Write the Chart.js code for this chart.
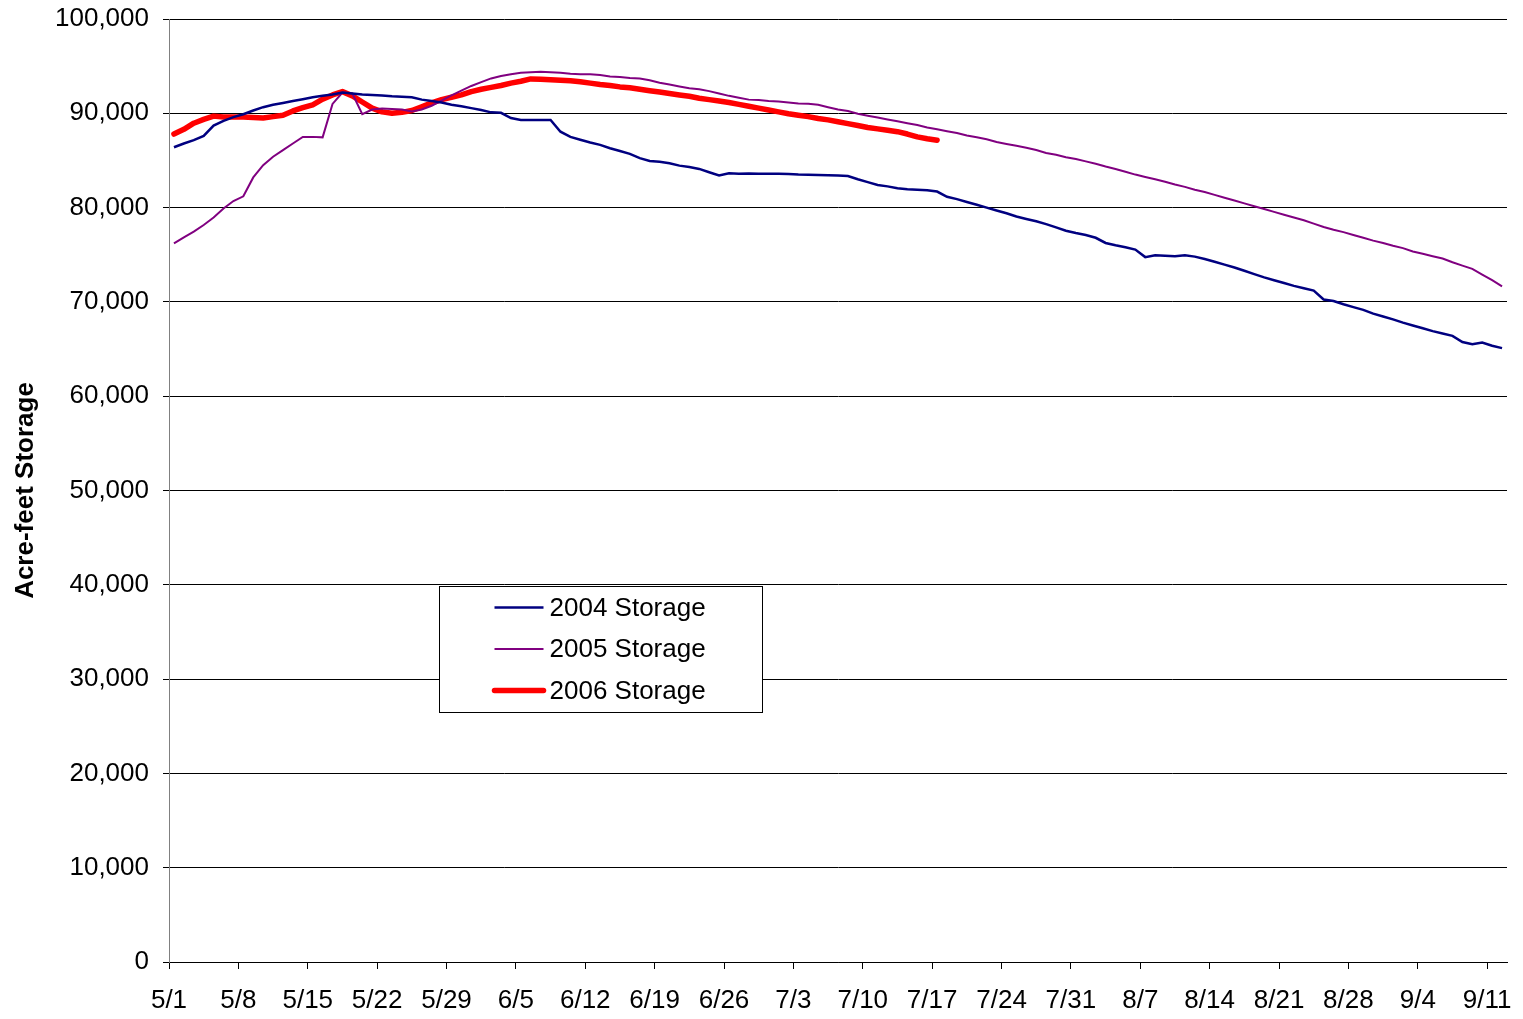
<!DOCTYPE html>
<html>
<head>
<meta charset="utf-8">
<title>Storage</title>
<script src="https://cdn.jsdelivr.net/npm/chart.js@4.4.1/dist/chart.umd.min.js"></script>
<style>
  html, body { margin: 0; padding: 0; background: #fff; }
  #wrap { width: 1523px; height: 1019px; }
</style>
</head>
<body>
<div id="wrap"><canvas id="storageChart" width="1523" height="1019"></canvas></div>
<script>
'use strict';

// ------------------ data ------------------
const seriesNames = ['2004 Storage', '2005 Storage', '2006 Storage'];

// one value per day starting 5/1
const storage2004 = [
  86400, 86800, 87150, 87600, 88700, 89200, 89600, 89900, 90300, 90650,
  90900, 91100, 91300, 91500, 91700, 91850, 92000, 92200, 92100, 92000,
  91950, 91900, 91800, 91750, 91700, 91450, 91300, 91150, 90900, 90750,
  90550, 90350, 90100, 90050, 89500, 89300, 89300, 89300, 89300, 88050,
  87500, 87200, 86900, 86650, 86300, 86000, 85700, 85250, 84950, 84850,
  84700, 84450, 84300, 84100, 83750, 83400, 83650, 83600, 83620, 83600,
  83600, 83580, 83550, 83500, 83480, 83450, 83430, 83400, 83350, 83000,
  82700, 82400, 82250, 82050, 81950, 81900, 81850, 81700, 81150, 80900,
  80600, 80300, 80000, 79700, 79400, 79050, 78800, 78550, 78250, 77900,
  77550, 77300, 77100, 76800, 76250, 76000, 75800, 75550, 74750, 74950,
  74900, 74850, 74950, 74800, 74550, 74250, 73950, 73650, 73300, 72950,
  72600, 72300, 72000, 71700, 71450, 71200, 70250, 70100, 69750, 69450,
  69150, 68750, 68450, 68150, 67800, 67500, 67200, 66900, 66650, 66400,
  65750, 65500, 65700, 65350, 65100
];

const storage2005 = [
  76200, 76850, 77450, 78150, 78950, 79900, 80700, 81200, 83200, 84500,
  85400, 86100, 86800, 87500, 87500, 87450, 91000, 92200, 92100, 89900,
  90400, 90500, 90450, 90400, 90200, 90400, 90800, 91350, 91900, 92400,
  92900, 93300, 93700, 93950, 94150, 94300, 94350, 94400, 94350, 94300,
  94200, 94150, 94150, 94050, 93900, 93850, 93750, 93700, 93500, 93250,
  93050, 92850, 92650, 92550, 92350, 92100, 91850, 91650, 91450, 91400,
  91300, 91250, 91150, 91050, 91000, 90900, 90650, 90400, 90250, 89950,
  89750, 89550, 89350, 89150, 88950, 88750, 88500, 88300, 88100, 87900,
  87650, 87450, 87250, 86950, 86750, 86550, 86350, 86100, 85800, 85600,
  85350, 85150, 84900, 84650, 84350, 84100, 83800, 83500, 83250, 83000,
  82750, 82450, 82200, 81900, 81650, 81350, 81050, 80750, 80450, 80150,
  79850, 79550, 79250, 78950, 78650, 78300, 77950, 77650, 77400, 77100,
  76800, 76500, 76250, 75950, 75700, 75350, 75100, 74850, 74600, 74200,
  73850, 73500, 72900, 72300, 71650
];

const storage2006 = [
  87800, 88300, 88950, 89350, 89700, 89600, 89600, 89600, 89550, 89500,
  89650, 89800, 90250, 90600, 90900, 91500, 91950, 92300, 91850, 91200,
  90550, 90150, 90000, 90100, 90300, 90700, 91100, 91450, 91700, 91950,
  92300, 92550, 92750, 92950, 93200, 93400, 93650, 93600, 93550, 93500,
  93450, 93350, 93200, 93050, 92950, 92800, 92700, 92550, 92400, 92250,
  92100, 91950, 91800, 91600, 91450, 91300, 91150, 90950, 90750, 90550,
  90350, 90150, 89950, 89800, 89650, 89450, 89300, 89100, 88900, 88700,
  88500, 88350, 88200, 88050, 87800, 87500, 87300, 87150
];

// week labels on the date axis
const weekLabels = ['5/1', '5/8', '5/15', '5/22', '5/29', '6/5', '6/12', '6/19', '6/26', '7/3',
  '7/10', '7/17', '7/24', '7/31', '8/7', '8/14', '8/21', '8/28', '9/4', '9/11'];
const dayCount = storage2004.length;

// ------------------ helpers ------------------
const FONT = '"Liberation Sans", Arial, sans-serif';

function toPoints(values) {
  return values.map((v, i) => ({ x: i, y: v }));
}

// draws the boxed legend inside the plot like the old excel chart
const boxLegend = {
  id: 'boxLegend',
  afterDraw(chart) {
    const ctx = chart.ctx;
    const area = chart.chartArea;
    const left = area.left + 270.5;
    const top = area.top + 567.5;
    const w = 323;
    const h = 126;
    ctx.save();
    ctx.fillStyle = '#fff';
    ctx.fillRect(left, top, w, h);
    ctx.strokeStyle = '#000';
    ctx.lineWidth = 1;
    ctx.strokeRect(left, top, w, h);
    ctx.font = '26px ' + FONT;
    ctx.textBaseline = 'middle';
    ctx.textAlign = 'left';
    chart.data.datasets.forEach((ds, i) => {
      const y = top + 21 + i * 41.5;
      ctx.beginPath();
      ctx.strokeStyle = ds.borderColor;
      ctx.lineWidth = ds.borderWidth;
      ctx.lineCap = i === 2 ? 'round' : 'butt';
      ctx.moveTo(left + 55, y);
      ctx.lineTo(left + 104, y);
      ctx.stroke();
      ctx.fillStyle = '#000';
      ctx.fillText(ds.label, left + 110, y + 1);
    });
    ctx.restore();
  }
};

// ------------------ chart ------------------
const chartCtx = document.getElementById('storageChart').getContext('2d');
const storageChart = new Chart(chartCtx, {
  type: 'line',
  data: {
    datasets: [{
      label: seriesNames[0],
      data: toPoints(storage2004),
      borderColor: '#000080',
      borderWidth: 2.5,
      pointRadius: 0,
      tension: 0
    }, {
      label: seriesNames[1],
      data: toPoints(storage2005),
      borderColor: '#800080',
      borderWidth: 2,
      pointRadius: 0,
      tension: 0
    }, {
      label: seriesNames[2],
      data: toPoints(storage2006),
      borderColor: '#FF0000',
      borderWidth: 5.5,
      pointRadius: 0,
      tension: 0,
      borderCapStyle: 'round',
      borderJoinStyle: 'round'
    }]
  },
  options: {
    responsive: false,
    animation: false,
    layout: { padding: { top: 19, right: 16, bottom: 0, left: 0 } },
    plugins: {
      legend: { display: false },
      tooltip: { enabled: false }
    },
    scales: {
      x: {
        type: 'linear',
        min: -0.5,
        max: dayCount - 0.5,
        afterBuildTicks(scale) {
          scale.ticks = weekLabels.map((lab, k) => ({ value: -0.5 + k * 7 }));
        },
        afterFit(scale) {
          scale.height = 57;
          scale.paddingLeft = 0;
          scale.paddingRight = 0;
        },
        ticks: {
          autoSkip: false,
          maxRotation: 0,
          padding: 16,
          color: '#000',
          font: { family: FONT, size: 26 },
          callback: (val, idx) => weekLabels[idx]
        },
        grid: {
          drawOnChartArea: false,
          drawTicks: true,
          tickLength: 7,
          color: '#000'
        },
        border: { color: '#000', width: 1 }
      },
      y: {
        min: 0,
        max: 100000,
        afterFit(scale) {
          scale.width = 169;
          scale.paddingTop = 0;
          scale.paddingBottom = 0;
        },
        ticks: {
          stepSize: 10000,
          padding: 14,
          color: '#000',
          font: { family: FONT, size: 26 },
          callback: (val) => val.toLocaleString('en-US')
        },
        grid: {
          color: '#000',
          tickLength: 6,
          drawTicks: true
        },
        border: { color: '#808080', width: 1 },
        title: {
          display: true,
          text: 'Acre-feet Storage',
          color: '#000',
          font: { family: FONT, size: 26, weight: 'bold' },
          padding: { top: 10, bottom: 0 }
        }
      }
    }
  },
  plugins: [boxLegend]
});
</script>
</body>
</html>
